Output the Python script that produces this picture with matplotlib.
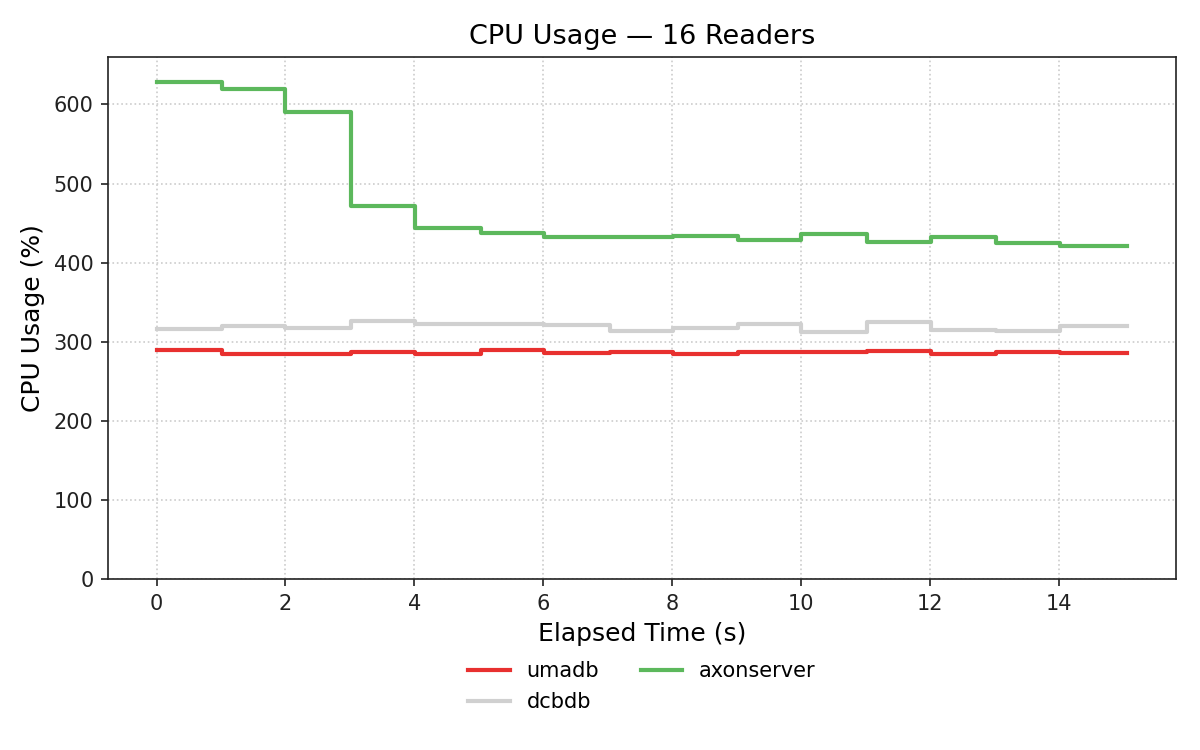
import matplotlib
matplotlib.use('Agg')
import matplotlib.pyplot as plt

# elapsed time samples (s)
elapsed = [0, 1.02, 2.0, 3.02, 4.01, 5.03, 6.01, 7.04, 8.01, 9.02, 10.0, 11.02,
           12.02, 13.02, 14.02, 15.06]

# CPU usage (%) per sample
umadb = [289, 284, 284, 287, 285, 289, 286, 287, 285, 287, 287, 288, 284, 287,
         286, 286]
dcbdb = [316, 320, 317, 326, 322, 323, 321, 314, 317, 323, 312, 325, 315, 314,
         320, 320]
axonserver = [629, 619, 591, 471, 444, 438, 432, 432, 434, 429, 436, 426, 432,
              425, 421, 421]

plt.rcParams['axes.edgecolor'] = '#222222'
plt.rcParams['xtick.color'] = '#222222'
plt.rcParams['ytick.color'] = '#222222'

fig, ax = plt.subplots(figsize=(8, 5), dpi=150)

ax.step(elapsed, umadb, where='post', color='#e8302f', linewidth=2, label='umadb')
ax.step(elapsed, dcbdb, where='post', color='#d0d0d0', linewidth=2, label='dcbdb')
ax.step(elapsed, axonserver, where='post', color='#5cb85c', linewidth=2, label='axonserver')

ax.set_ylim(0, 660)
ax.set_title('CPU Usage — 16 Readers', fontsize=13)
ax.set_xlabel('Elapsed Time (s)', fontsize=12)
ax.set_ylabel('CPU Usage (%)', fontsize=12)
ax.grid(True, linestyle=':', color='#cccccc')
ax.legend(loc='upper center', bbox_to_anchor=(0.5, -0.122), ncol=2, frameon=False)

fig.subplots_adjust(left=0.09, right=0.98, top=0.924, bottom=0.228)
fig.savefig('out.png')
